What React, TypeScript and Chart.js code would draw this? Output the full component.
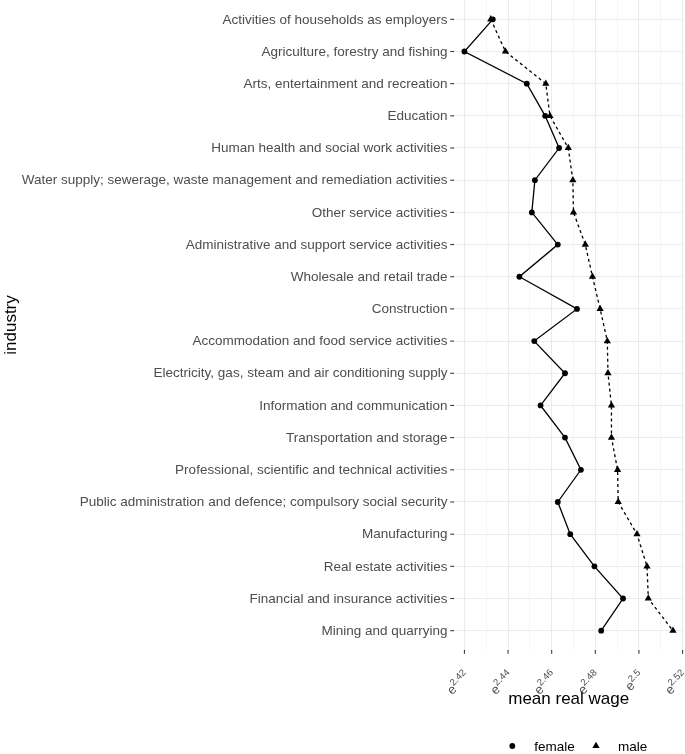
import React, { useEffect, useRef } from "react";
import { Chart, registerables } from "chart.js";

Chart.register(...registerables);

const categories = [
  "Activities of households as employers",
  "Agriculture, forestry and fishing",
  "Arts, entertainment and recreation",
  "Education",
  "Human health and social work activities",
  "Water supply; sewerage, waste management and remediation activities",
  "Other service activities",
  "Administrative and support service activities",
  "Wholesale and retail trade",
  "Construction",
  "Accommodation and food service activities",
  "Electricity, gas, steam and air conditioning supply",
  "Information and communication",
  "Transportation and storage",
  "Professional, scientific and technical activities",
  "Public administration and defence; compulsory social security",
  "Manufacturing",
  "Real estate activities",
  "Financial and insurance activities",
  "Mining and quarrying",
];

// log of mean real wage (axis shows e^x)
const femaleWage = [
  2.433, 2.42, 2.4486, 2.457, 2.4634, 2.4523, 2.4509, 2.4628, 2.4452, 2.4716,
  2.452, 2.4661, 2.4549, 2.4661, 2.4734, 2.4628, 2.4685, 2.4796, 2.4927, 2.4827,
];
const maleWage = [
  2.4321, 2.4388, 2.4573, 2.4592, 2.4676, 2.4697, 2.47, 2.4754, 2.4787, 2.4822,
  2.4855, 2.4858, 2.4874, 2.4874, 2.4902, 2.4905, 2.4991, 2.5037, 2.5043, 2.5156,
];

const xMajorTicks = [2.42, 2.44, 2.46, 2.48, 2.5, 2.52];
const xTickLabels = ["2.42", "2.44", "2.46", "2.48", "2.5", "2.52"];
const xMinorTicks = [2.43, 2.45, 2.47, 2.49, 2.51];

const seriesNames = ["female", "male"];

const FONT = "'Liberation Sans', Arial, sans-serif";
const TEXT_GRAY = "#4D4D4D";

export default function App() {
  const ref = useRef<HTMLCanvasElement | null>(null);

  useEffect(() => {
    const canvas = ref.current;
    if (!canvas) return;

    const allX = [...femaleWage, ...maleWage];
    const dMin = Math.min(...allX);
    const dMax = Math.max(...allX);
    const ex = (dMax - dMin) * 0.05;

    const textPlugin = {
      id: "ggText",
      afterDraw(chart: any) {
        const ctx = chart.ctx;
        const area = chart.chartArea;
        const xs = chart.scales.x;
        const ys = chart.scales.y;
        ctx.save();
        // y tick marks and labels
        ctx.strokeStyle = "#333333";
        ctx.lineWidth = 1.07;
        ctx.fillStyle = TEXT_GRAY;
        ctx.font = `13.5px ${FONT}`;
        ctx.textAlign = "right";
        ctx.textBaseline = "middle";
        categories.forEach((c, i) => {
          const y = ys.getPixelForValue(i);
          ctx.beginPath();
          ctx.moveTo(area.left - 3.7, y);
          ctx.lineTo(area.left, y);
          ctx.stroke();
          ctx.fillText(c, area.left - 6.5, y + 0.5);
        });
        // x tick marks and labels
        xMajorTicks.forEach((v, i) => {
          const x = xs.getPixelForValue(v);
          ctx.beginPath();
          ctx.moveTo(x, area.bottom);
          ctx.lineTo(x, area.bottom + 3.7);
          ctx.stroke();
          ctx.save();
          ctx.translate(x + 6, area.bottom + 27);
          ctx.rotate(-Math.PI / 4);
          ctx.textAlign = "left";
          ctx.textBaseline = "alphabetic";
          ctx.font = `9.5px ${FONT}`;
          const ws = ctx.measureText(xTickLabels[i]).width;
          ctx.font = `13px ${FONT}`;
          const we = ctx.measureText("e").width;
          ctx.fillText("e", -(we + ws), 0);
          ctx.font = `9.5px ${FONT}`;
          ctx.fillText(xTickLabels[i], -ws, -5.5);
          ctx.restore();
        });
        // axis titles
        ctx.fillStyle = "#000000";
        ctx.font = `17px ${FONT}`;
        ctx.textAlign = "center";
        ctx.textBaseline = "middle";
        ctx.fillText("mean real wage", (area.left + area.right) / 2, 699);
        ctx.save();
        ctx.translate(11, (area.top + area.bottom) / 2);
        ctx.rotate(-Math.PI / 2);
        ctx.fillText("industry", 0, 0);
        ctx.restore();
        // legend
        ctx.fillStyle = "#000000";
        ctx.beginPath();
        ctx.arc(512.3, 746, 2.9, 0, Math.PI * 2);
        ctx.fill();
        ctx.beginPath();
        const tr = 4.2;
        ctx.moveTo(596, 746 - tr);
        ctx.lineTo(596 + tr * 0.866, 746 + tr * 0.5);
        ctx.lineTo(596 - tr * 0.866, 746 + tr * 0.5);
        ctx.closePath();
        ctx.fill();
        ctx.font = `13.5px ${FONT}`;
        ctx.textAlign = "left";
        ctx.textBaseline = "middle";
        ctx.fillText(seriesNames[0], 534.3, 747);
        ctx.fillText(seriesNames[1], 618, 747);
        ctx.restore();
      },
    };

    const chart = new Chart(canvas, {
      type: "scatter",
      data: {
        datasets: [
          {
            label: seriesNames[0],
            data: femaleWage.map((v, i) => ({ x: v, y: i })),
            showLine: true,
            borderColor: "#000000",
            borderWidth: 1.3,
            backgroundColor: "#000000",
            pointStyle: "circle",
            pointRadius: 2.9,
            pointBorderWidth: 0,
            pointHoverRadius: 2.9,
            clip: false,
          },
          {
            label: seriesNames[1],
            data: maleWage.map((v, i) => ({ x: v, y: i })),
            showLine: true,
            borderColor: "#000000",
            borderWidth: 1.3,
            borderDash: [3, 3],
            backgroundColor: "#000000",
            pointStyle: "triangle",
            pointRadius: 4.2,
            pointBorderWidth: 0,
            pointHoverRadius: 4.2,
            clip: false,
          },
        ],
      },
      options: {
        responsive: false,
        animation: false,
        events: [],
        layout: { autoPadding: false, padding: { left: 0, right: 1.6, top: 0, bottom: 0 } },
        plugins: {
          legend: { display: false },
          tooltip: { enabled: false },
          title: { display: false },
        },
        scales: {
          x: {
            type: "linear",
            min: dMin - ex,
            max: dMax + ex,
            afterBuildTicks: (scale: any) => {
              scale.ticks = [...xMajorTicks, ...xMinorTicks]
                .sort((a, b) => a - b)
                .map((v) => ({ value: v }));
            },
            afterFit: (scale: any) => {
              scale.height = 104;
              scale.paddingLeft = 0;
              scale.paddingRight = 0;
            },
            ticks: { display: false },
            border: { display: false },
            grid: {
              drawTicks: false,
              color: (c: any) =>
                Math.round(c.tick.value * 100) % 2 === 0 ? "#EBEBEB" : "#F3F3F3",
              lineWidth: (c: any) =>
                Math.round(c.tick.value * 100) % 2 === 0 ? 1.07 : 0.8,
            },
          },
          y: {
            type: "linear",
            reverse: true,
            min: -0.6,
            max: categories.length - 1 + 0.6,
            afterBuildTicks: (scale: any) => {
              scale.ticks = categories.map((_, i) => ({ value: i }));
            },
            afterFit: (scale: any) => {
              scale.width = 454;
              scale.paddingTop = 0;
              scale.paddingBottom = 0;
            },
            ticks: { display: false },
            border: { display: false },
            grid: {
              drawTicks: false,
              color: "#EBEBEB",
              lineWidth: 1.07,
            },
          },
        },
      },
      plugins: [textPlugin],
    } as any);

    return () => {
      chart.destroy();
    };
  }, []);

  return (
    <div style={{ position: "fixed", left: 0, top: 0, width: 685, height: 754, background: "#ffffff" }}>
      <canvas ref={ref} width={685} height={754} style={{ display: "block", width: 685, height: 754 }} />
    </div>
  );
}
